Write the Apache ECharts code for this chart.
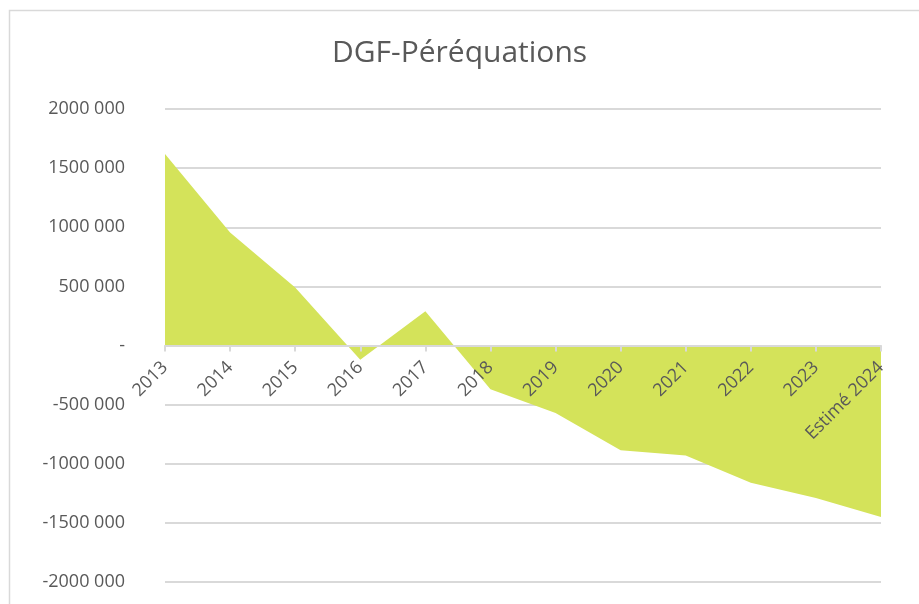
<!DOCTYPE html>
<html>
<head>
<meta charset="utf-8">
<script src="https://cdn.jsdelivr.net/npm/echarts@6/dist/echarts.min.js"></script>
<style>html,body{margin:0;padding:0;background:#fff}#c{width:919px;height:604px}</style>
</head>
<body>
<div id="c"></div>
<script>
const categories = ['2013','2014','2015','2016','2017','2018','2019','2020','2021','2022','2023','Estimé 2024'];
const values = [1620000, 955000, 490000, -120000, 290000, -370000, -570000, -885000, -930000, -1160000, -1290000, -1450000];
const title = 'DGF-Péréquations';

function fmt(v){
  if (v === 0) return '-';
  const neg = v < 0;
  const a = Math.abs(v);
  const thousands = Math.floor(a/1000), rest = a % 1000;
  return (neg ? '-' : '') + thousands + ' ' + String(rest).padStart(3,'0');
}

const GRID_TOP = 109, GRID_BOTTOM = 22, H = 604;
const plotH = H - GRID_TOP - GRID_BOTTOM;

const chart = echarts.init(document.getElementById('c'), null, {renderer:'canvas'});
chart.setOption({
  animation:false,
  backgroundColor:'#fff',
  textStyle:{fontFamily:'Open Sans'},
  title:{text:title, left:'center', top:33, textStyle:{fontFamily:'Open Sans', fontSize:30, fontWeight:'normal', color:'#595959'}},
  graphic:[{type:'rect', shape:{x:9.5,y:10.5,width:940,height:640}, style:{fill:'none', stroke:'#d9d9d9', lineWidth:1.5}, silent:true}],
  grid:{left:165, right:38, top:GRID_TOP, bottom:GRID_BOTTOM, containLabel:false, outerBoundsMode:'none'},
  xAxis:{
    type:'category', data:categories, boundaryGap:false, position:'bottom', offset:-plotH/2, z:10,
    axisLine:{onZero:false, lineStyle:{color:'#d9d9d9', width:2}},
    axisTick:{show:true, length:6, lineStyle:{color:'#d9d9d9', width:2}, alignWithLabel:true},
    axisLabel:{rotate:45, color:'#595959', fontSize:18, margin:19, fontFamily:'Open Sans', interval:0},
    splitLine:{show:false}
  },
  yAxis:{
    type:'value', min:-2000000, max:2000000, interval:500000,
    axisLine:{show:false}, axisTick:{show:false},
    axisLabel:{formatter:fmt, color:'#595959', fontSize:18, margin:40, fontFamily:'Open Sans'},
    splitLine:{lineStyle:{color:'#d9d9d9', width:2}}
  },
  series:[{
    type:'line', data:values, showSymbol:false, symbol:'none',
    lineStyle:{width:0, color:'#d4e35a'},
    itemStyle:{color:'#d4e35a'},
    areaStyle:{color:'#d4e35a', opacity:1, origin:0}
  }]
});
</script>
</body>
</html>
